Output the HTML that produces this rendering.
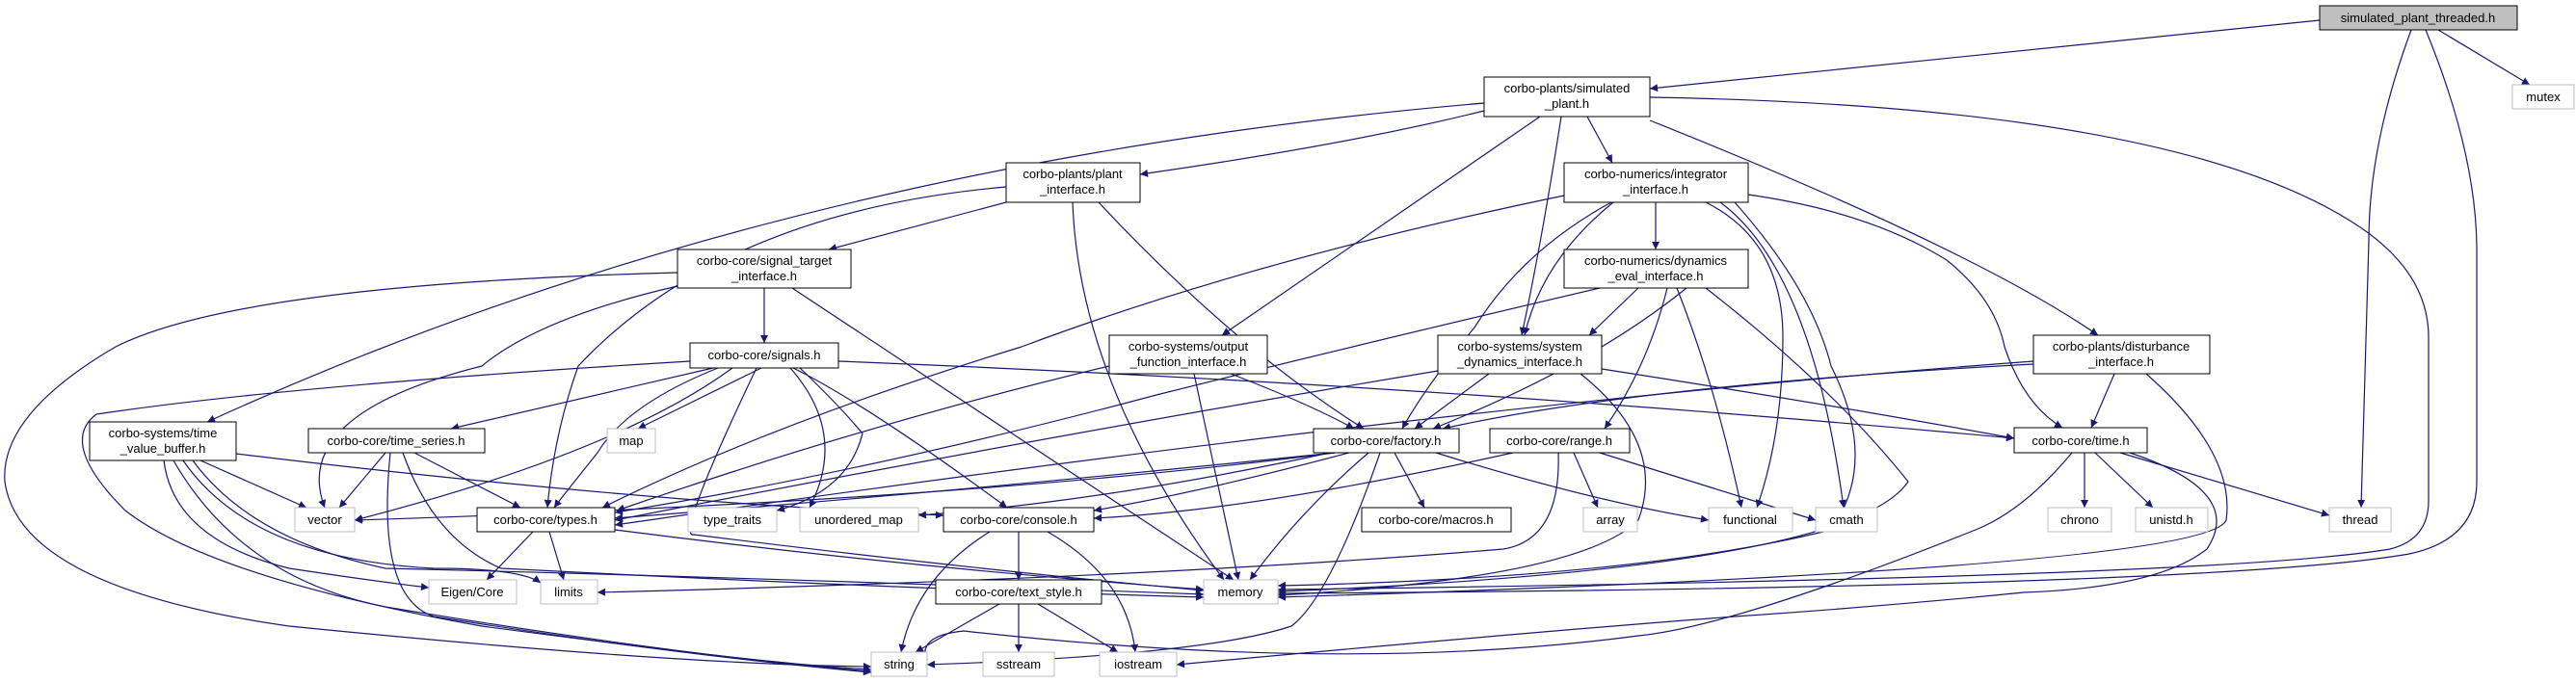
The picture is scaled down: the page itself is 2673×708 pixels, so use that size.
<!DOCTYPE html>
<html><head><meta charset="utf-8"><style>
html,body{margin:0;padding:0;background:#fff;}
svg{display:block}
text{font-family:"Liberation Sans",sans-serif;font-size:13px;fill:#000}
</style></head><body>
<svg width="2673" height="708" viewBox="0 0 2673 708" xmlns="http://www.w3.org/2000/svg">
<defs>
<marker id="a" viewBox="0 0 10 10" refX="10" refY="5" markerWidth="10" markerHeight="8" orient="auto" markerUnits="userSpaceOnUse">
<path d="M0,0 L10,5 L0,10 z" fill="#191970"/>
</marker>
</defs>
<g fill="none" stroke="#191970" stroke-width="1.2" marker-end="url(#a)">
<!-- root -->
<path d="M2407,21 L1712,92"/>
<path d="M2530,31 L2625,88"/>
<path d="M2502,31 Q2458,150 2458,250 L2450,527"/>
<path d="M2517,31 Q2570,160 2570,260 L2570,500 Q2570,560 2500,575 Q2300,610 1326,616"/>
<!-- simulated_plant -->
<path d="M1540,115 Q1400,150 1183,181"/>
<path d="M1647,121 L1673,169"/>
<path d="M1598,121 L1268,348"/>
<path d="M1620,121 Q1600,250 1579,348"/>
<path d="M1712,125 Q2050,260 2177,348"/>
<path d="M1540,107 Q800,170 215,438"/>
<path d="M1712,101 Q2250,110 2440,230 Q2520,280 2520,350 L2520,520 Q2520,560 2480,570 Q2300,600 1326,612"/>
<!-- plant_interface -->
<path d="M1044,210 L860,259"/>
<path d="M1044,194 Q750,220 600,380 Q575,450 568,527"/>
<path d="M1140,210 Q1280,360 1415,445"/>
<path d="M1113,210 Q1120,400 1270,602"/>
<!-- signal_target -->
<path d="M793,299 L793,356"/>
<path d="M703,297 Q560,330 500,380 Q300,430 337,527"/>
<path d="M703,283 Q250,295 120,360 Q0,430 5,500 Q20,610 300,650 Q700,690 904,692"/>
<path d="M822,299 Q1050,450 1280,602"/>
<!-- integrator -->
<path d="M1718,210 L1718,259"/>
<path d="M1623,203 Q1300,270 1060,360 Q800,440 625,527"/>
<path d="M1672,210 Q1580,260 1530,340 Q1480,400 1455,445"/>
<path d="M1674,210 Q1600,270 1582,348"/>
<path d="M1770,210 Q1850,250 1850,350 Q1850,450 1823,527"/>
<path d="M1785,210 Q1880,280 1913,527"/>
<path d="M1800,210 Q1880,300 1900,380 Q1950,480 1900,550 Q1700,600 1326,608"/>
<path d="M1814,202 Q1940,220 2020,270 Q2070,310 2080,360 Q2100,420 2140,444"/>
<!-- dynamics_eval -->
<path d="M1700,299 L1649,348"/>
<path d="M1750,299 Q1650,380 1487,445"/>
<path d="M1660,299 Q1400,360 1200,410 Q900,490 638,532"/>
<path d="M1730,299 Q1710,380 1665,445"/>
<path d="M1740,299 Q1780,400 1807,527"/>
<path d="M1770,299 Q1900,400 1980,500 Q1920,590 1326,614"/>
<!-- output_function -->
<path d="M1151,380 Q900,440 640,530"/>
<path d="M1277,388 Q1360,420 1405,445"/>
<path d="M1239,388 L1285,602"/>
<!-- system_dynamics -->
<path d="M1492,385 Q1100,450 638,540"/>
<path d="M1545,388 L1468,445"/>
<path d="M1662,383 Q1900,420 2090,455"/>
<path d="M1640,388 Q1730,460 1700,540 Q1640,600 1326,618"/>
<!-- disturbance -->
<path d="M2110,375 Q1500,420 638,545"/>
<path d="M2110,378 Q1700,400 1497,445"/>
<path d="M2194,388 L2170,444"/>
<path d="M2227,388 Q2320,470 2310,540 Q2290,590 1326,620"/>
<!-- signals -->
<path d="M740,382 L468,445"/>
<path d="M790,382 L662,445"/>
<path d="M745,382 Q650,420 620,470 Q580,520 575,527"/>
<path d="M760,382 Q640,470 368,540"/>
<path d="M823,382 Q900,420 1045,527"/>
<path d="M820,382 Q880,450 840,527"/>
<path d="M830,382 Q870,420 895,450 Q880,510 806,530"/>
<path d="M870,375 Q1500,400 2090,455"/>
<path d="M785,382 Q700,560 720,555 Q1000,590 1249,613"/>
<path d="M716,375 Q300,400 100,430 Q60,460 130,530 Q220,600 500,650 Q800,690 904,695"/>
<!-- time_value_buffer -->
<path d="M208,478 L318,527"/>
<path d="M245,471 Q650,520 979,535"/>
<path d="M170,478 Q180,560 300,590 Q400,605 445,610"/>
<path d="M190,478 Q260,580 450,590 Q540,590 561,605"/>
<path d="M200,478 Q260,560 400,590 Q800,600 1249,617"/>
<path d="M180,478 Q250,600 400,630 Q700,680 904,697"/>
<!-- time_series -->
<path d="M400,470 L352,527"/>
<path d="M430,470 L540,527"/>
<path d="M418,470 Q450,560 520,590 Q900,610 1249,620"/>
<path d="M405,470 Q390,620 450,640 Q700,680 904,698"/>
<!-- types -->
<path d="M553,552 L505,602"/>
<path d="M570,552 L585,602"/>
<path d="M638,550 Q950,590 1249,612"/>
<!-- factory -->
<path d="M1385,470 Q1000,510 638,538"/>
<path d="M1380,470 Q1150,520 953,535"/>
<path d="M1400,470 Q1250,510 1135,530"/>
<path d="M1447,470 L1478,527"/>
<path d="M1420,470 Q1350,530 1297,602"/>
<path d="M1432,470 Q1380,620 1340,650 Q1250,680 962,690"/>
<path d="M1490,470 Q1650,520 1773,540"/>
<path d="M1385,470 Q1000,520 368,540"/>
<!-- range -->
<path d="M1633,470 L1658,527"/>
<path d="M1570,470 Q1300,530 1135,538"/>
<path d="M1660,470 L1884,540"/>
<path d="M1617,470 Q1620,560 1560,570 Q1200,600 620,615"/>
<!-- console -->
<path d="M1057,552 L1057,602"/>
<path d="M1027,552 Q950,600 935,677"/>
<path d="M1087,552 Q1170,600 1178,677"/>
<!-- text_style -->
<path d="M1037,627 L950,677"/>
<path d="M1057,627 L1057,677"/>
<path d="M1077,627 L1160,677"/>
<!-- time -->
<path d="M2163,470 L2163,527"/>
<path d="M2174,470 L2234,527"/>
<path d="M2200,470 L2417,535"/>
<path d="M2150,470 Q2100,530 2050,550 Q1800,650 1700,660 Q1400,700 1000,655 Q950,660 962,688"/>
<path d="M2210,470 Q2330,510 2290,570 Q2240,610 2100,615 Q1950,630 1800,640 Q1600,655 1221,690"/>
</g>
<g stroke-width="1">
<!-- black nodes -->
<g fill="#fff" stroke="#000">
<rect x="2407" y="6" width="205" height="25" fill="#bfbfbf"/>
<rect x="1540" y="80" width="172" height="41"/>
<rect x="1044" y="169" width="139" height="41"/>
<rect x="1623" y="169" width="191" height="41"/>
<rect x="703" y="259" width="180" height="40"/>
<rect x="1623" y="259" width="191" height="40"/>
<rect x="2110" y="348" width="183" height="40"/>
<rect x="716" y="356" width="154" height="26"/>
<rect x="1151" y="348" width="164" height="40"/>
<rect x="1492" y="348" width="170" height="40"/>
<rect x="93" y="438" width="152" height="40"/>
<rect x="320" y="445" width="183" height="25"/>
<rect x="1363" y="445" width="151" height="25"/>
<rect x="1546" y="445" width="145" height="25"/>
<rect x="2090" y="444" width="138" height="26"/>
<rect x="495" y="527" width="143" height="25"/>
<rect x="979" y="527" width="156" height="25"/>
<rect x="1413" y="527" width="155" height="25"/>
<rect x="971" y="602" width="172" height="25"/>
</g>
<g fill="#fff" stroke="#bfbfbf">
<rect x="2607" y="88" width="64" height="25"/>
<rect x="630" y="445" width="50" height="25"/>
<rect x="306" y="527" width="62" height="25"/>
<rect x="714" y="527" width="92" height="25"/>
<rect x="830" y="527" width="123" height="25"/>
<rect x="1643" y="527" width="56" height="25"/>
<rect x="1773" y="527" width="87" height="25"/>
<rect x="1884" y="527" width="64" height="25"/>
<rect x="2125" y="527" width="66" height="25"/>
<rect x="2216" y="527" width="75" height="25"/>
<rect x="2417" y="527" width="64" height="25"/>
<rect x="445" y="602" width="91" height="25"/>
<rect x="561" y="602" width="59" height="25"/>
<rect x="1249" y="602" width="77" height="25"/>
<rect x="904" y="677" width="58" height="25"/>
<rect x="1020" y="677" width="74" height="25"/>
<rect x="1141" y="677" width="80" height="25"/>
</g>
</g>
<g text-anchor="middle">
<text x="2509" y="23">simulated_plant_threaded.h</text>
<text x="1626" y="96">corbo-plants/simulated</text><text x="1626" y="112">_plant.h</text>
<text x="1113" y="185">corbo-plants/plant</text><text x="1113" y="201">_interface.h</text>
<text x="1718" y="185">corbo-numerics/integrator</text><text x="1718" y="201">_interface.h</text>
<text x="793" y="275">corbo-core/signal_target</text><text x="793" y="291">_interface.h</text>
<text x="1718" y="275">corbo-numerics/dynamics</text><text x="1718" y="291">_eval_interface.h</text>
<text x="2201" y="364">corbo-plants/disturbance</text><text x="2201" y="380">_interface.h</text>
<text x="793" y="373">corbo-core/signals.h</text>
<text x="1233" y="364">corbo-systems/output</text><text x="1233" y="380">_function_interface.h</text>
<text x="1577" y="364">corbo-systems/system</text><text x="1577" y="380">_dynamics_interface.h</text>
<text x="169" y="454">corbo-systems/time</text><text x="169" y="470">_value_buffer.h</text>
<text x="411" y="462">corbo-core/time_series.h</text>
<text x="1438" y="462">corbo-core/factory.h</text>
<text x="1618" y="462">corbo-core/range.h</text>
<text x="2159" y="462">corbo-core/time.h</text>
<text x="566" y="544">corbo-core/types.h</text>
<text x="1057" y="544">corbo-core/console.h</text>
<text x="1490" y="544">corbo-core/macros.h</text>
<text x="1057" y="619">corbo-core/text_style.h</text>
<text x="2639" y="105">mutex</text>
<text x="655" y="462">map</text>
<text x="337" y="544">vector</text>
<text x="760" y="544">type_traits</text>
<text x="891" y="544">unordered_map</text>
<text x="1671" y="544">array</text>
<text x="1816" y="544">functional</text>
<text x="1916" y="544">cmath</text>
<text x="2158" y="544">chrono</text>
<text x="2253" y="544">unistd.h</text>
<text x="2449" y="544">thread</text>
<text x="490" y="619">Eigen/Core</text>
<text x="590" y="619">limits</text>
<text x="1287" y="619">memory</text>
<text x="933" y="694">string</text>
<text x="1057" y="694">sstream</text>
<text x="1181" y="694">iostream</text>
</g>
</svg>
</body></html>
